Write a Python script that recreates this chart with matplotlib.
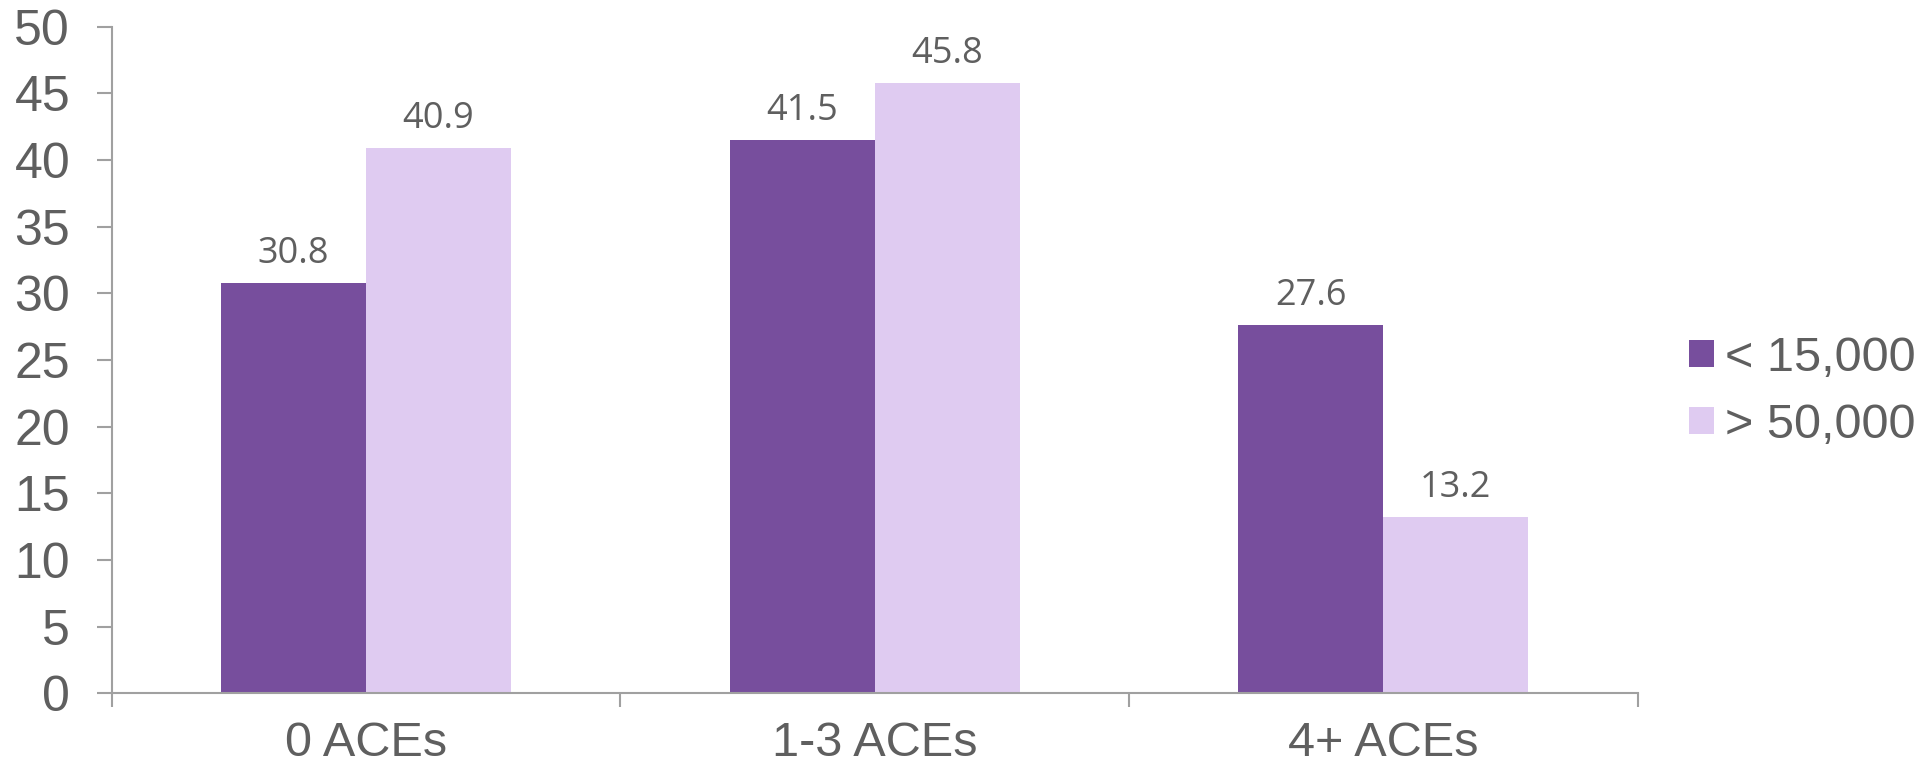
# Grouped bar chart: income groups by number of ACEs
import numpy as np
import matplotlib.pyplot as plt
from matplotlib.ticker import FixedLocator


# Data
categories = ['0 ACEs', '1-3 ACEs', '4+ ACEs']
series_names = ['< 15,000', '> 50,000']
low_income = [30.8, 41.5, 27.6]
high_income = [40.9, 45.8, 13.2]
y_ticks = [0, 5, 10, 15, 20, 25, 30, 35, 40, 45, 50]

purple = '#774E9D'
lavender = '#DFCBF1'
text_gray = '#5F5F5F'
axis_gray = '#A0A0A0'

fig = plt.figure(figsize=(19.21, 7.71), dpi=100)
ax = fig.add_axes([0.0582, 0.1008, 0.7943, 0.8646])

x = np.arange(len(categories))
w = 0.285

b1 = ax.bar(x - w/2, low_income, w, color=purple, label=series_names[0])
b2 = ax.bar(x + w/2, high_income, w, color=lavender, label=series_names[1])

# Value labels above bars
for bars in (b1, b2):
    for rect in bars:
        h = rect.get_height()
        ax.annotate('%.1f' % h, (rect.get_x() + rect.get_width()/2, h),
                    xytext=(0, 8), textcoords='offset points',
                    ha='center', va='bottom', fontsize=26,
                    family='Open Sans', color=text_gray)

# Axes styling
ax.set_xlim(-0.5, len(categories) - 0.5)
ax.set_ylim(0, 50)
ax.set_yticks(y_ticks)
ax.set_xticks(x)
ax.set_xticklabels(categories)
ax.xaxis.set_minor_locator(FixedLocator(np.arange(-0.5, len(categories), 1.0)))

for s in ['top', 'right']:
    ax.spines[s].set_visible(False)
for s in ['left', 'bottom']:
    ax.spines[s].set_color(axis_gray)
    ax.spines[s].set_linewidth(1.5)

ax.tick_params(axis='y', length=11, width=1.5, color=axis_gray, pad=19,
               labelsize=36, labelcolor=text_gray)
ax.tick_params(axis='x', which='major', length=0, pad=20,
               labelsize=35, labelcolor=text_gray)
ax.tick_params(axis='x', which='minor', length=10, width=1.5, color=axis_gray)
for lab in ax.get_xticklabels() + ax.get_yticklabels():
    lab.set_family('Liberation Sans')

# Legend
fig.legend(handles=[b1, b2], loc='center left', bbox_to_anchor=(0.879, 0.492),
           frameon=False, borderpad=0, borderaxespad=0,
           handlelength=0.52, handleheight=0.48, handletextpad=0.22,
           labelspacing=0.45,
           prop={'family': 'Liberation Sans', 'size': 35}, labelcolor=text_gray)

fig.savefig('out.png', dpi=100, facecolor='white')
